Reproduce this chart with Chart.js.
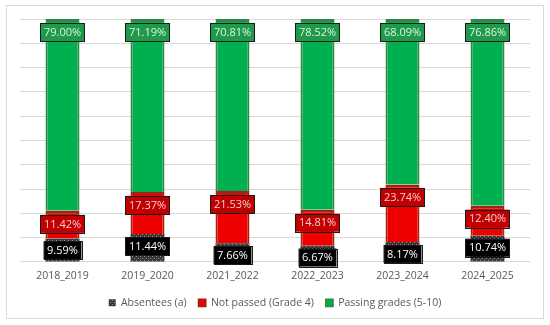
<!DOCTYPE html>
<html>
<head>
<meta charset="utf-8">
<script src="https://cdn.jsdelivr.net/npm/chart.js@4/dist/chart.umd.min.js"></script>
<style>
  body { margin: 0; background: #fff; }
  #wrap { width: 550px; height: 325px; }
</style>
</head>
<body>
<div id="wrap"><canvas id="myChart" width="550" height="325"></canvas></div>
<script>
const years = ["2018_2019", "2019_2020", "2021_2022", "2022_2023", "2023_2024", "2024_2025"];
const absentees = [9.59, 11.44, 7.66, 6.67, 8.17, 10.74];
const notPassed = [11.42, 17.37, 21.53, 14.81, 23.74, 12.40];
const passing = [79.00, 71.19, 70.81, 78.52, 68.09, 76.86];
const seriesNames = ["Absentees (a)", "Not passed (Grade 4)", "Passing grades (5-10)"];

// dotted grey pattern for the absentees part
function makePattern() {
  const c = document.createElement('canvas');
  c.width = 4; c.height = 4;
  const g = c.getContext('2d');
  g.fillStyle = '#3a3a3a';
  g.fillRect(0, 0, 4, 4);
  g.fillStyle = '#8c8c8c';
  g.fillRect(0, 0, 1, 1);
  g.fillRect(2, 2, 1, 1);
  return g.createPattern(c, 'repeat');
}
const absPattern = makePattern();

// label boxes: fill and text colour per series
const labelStyle = [
  { fill: '#000000', text: '#ffffff' },
  { fill: '#c00000', text: '#ffc7ce' },
  { fill: '#1f9a4c', text: '#d8f5dc' }
];

const frame = {
  id: 'frame',
  beforeDraw(chart) {
    const ctx = chart.ctx;
    ctx.save();
    ctx.fillStyle = '#fff';
    ctx.fillRect(0, 0, chart.width, chart.height);
    ctx.strokeStyle = '#d9d9d9';
    ctx.lineWidth = 1;
    ctx.strokeRect(6.5, 5.5, 537, 313);
    ctx.restore();
  }
};

const boxLabels = {
  id: 'boxLabels',
  afterDatasetsDraw(chart) {
    const ctx = chart.ctx;
    ctx.save();
    ctx.font = '11px "Open Sans"';
    ctx.textAlign = 'center';
    ctx.textBaseline = 'middle';
    chart.data.datasets.forEach((ds, i) => {
      const meta = chart.getDatasetMeta(i);
      meta.data.forEach((bar, j) => {
        const v = ds.data[j];
        const txt = v.toFixed(2) + '%';
        let y;
        if (i === 0) {
          y = (bar.y + bar.base) / 2 + (10 - v) * 1.2;
        } else {
          y = bar.y + 13;
        }
        const w = ctx.measureText(txt).width + 7;
        const h = 18;
        const st = labelStyle[i];
        ctx.fillStyle = st.fill;
        ctx.fillRect(bar.x - w / 2, y - h / 2, w, h);
        ctx.strokeStyle = '#1a1a1a';
        ctx.lineWidth = 1;
        ctx.strokeRect(Math.round(bar.x - w / 2) + 0.5, Math.round(y - h / 2) + 0.5, Math.round(w), h);
        ctx.fillStyle = st.text;
        ctx.fillText(txt, bar.x, y + 0.5);
      });
    });
    ctx.restore();
  }
};

const ctx = document.getElementById('myChart').getContext('2d');
const chart = new Chart(ctx, {
  type: 'bar',
  data: {
    labels: years,
    datasets: [
      {
        label: seriesNames[0],
        data: absentees,
        backgroundColor: absPattern,
        borderColor: '#6b6b6b',
        borderWidth: 0
      },
      {
        label: seriesNames[1],
        data: notPassed,
        backgroundColor: '#ee0000',
        borderColor: '#a8200f',
        borderWidth: { left: 2, right: 2, top: 3, bottom: 0 },
        borderSkipped: false
      },
      {
        label: seriesNames[2],
        data: passing,
        backgroundColor: '#00b050',
        borderColor: '#2f8a47',
        borderWidth: { left: 2, right: 2, top: 3, bottom: 0 },
        borderSkipped: false
      }
    ]
  },
  options: {
    responsive: false,
    animation: false,
    devicePixelRatio: 1,
    layout: { padding: { left: 20, right: 20, top: 19, bottom: 7 } },
    datasets: { bar: { barPercentage: 0.4, categoryPercentage: 1.0 } },
    scales: {
      x: {
        stacked: true,
        grid: { display: false },
        border: { display: false },
        ticks: { color: '#595959', font: { family: 'Open Sans', size: 10.5 }, padding: 0 },
        afterFit(scale) { scale.height += 3; }
      },
      y: {
        stacked: true,
        min: 0,
        max: 100,
        ticks: { display: false, stepSize: 10 },
        grid: { color: '#d9d9d9', drawTicks: false },
        border: { display: false }
      }
    },
    plugins: {
      legend: {
        position: 'bottom',
        labels: {
          color: '#595959',
          font: { family: 'Open Sans', size: 10.5 },
          boxWidth: 7,
          boxHeight: 7,
          padding: 12
        }
      },
      tooltip: { enabled: false }
    }
  },
  plugins: [frame, boxLabels]
});
</script>
</body>
</html>
